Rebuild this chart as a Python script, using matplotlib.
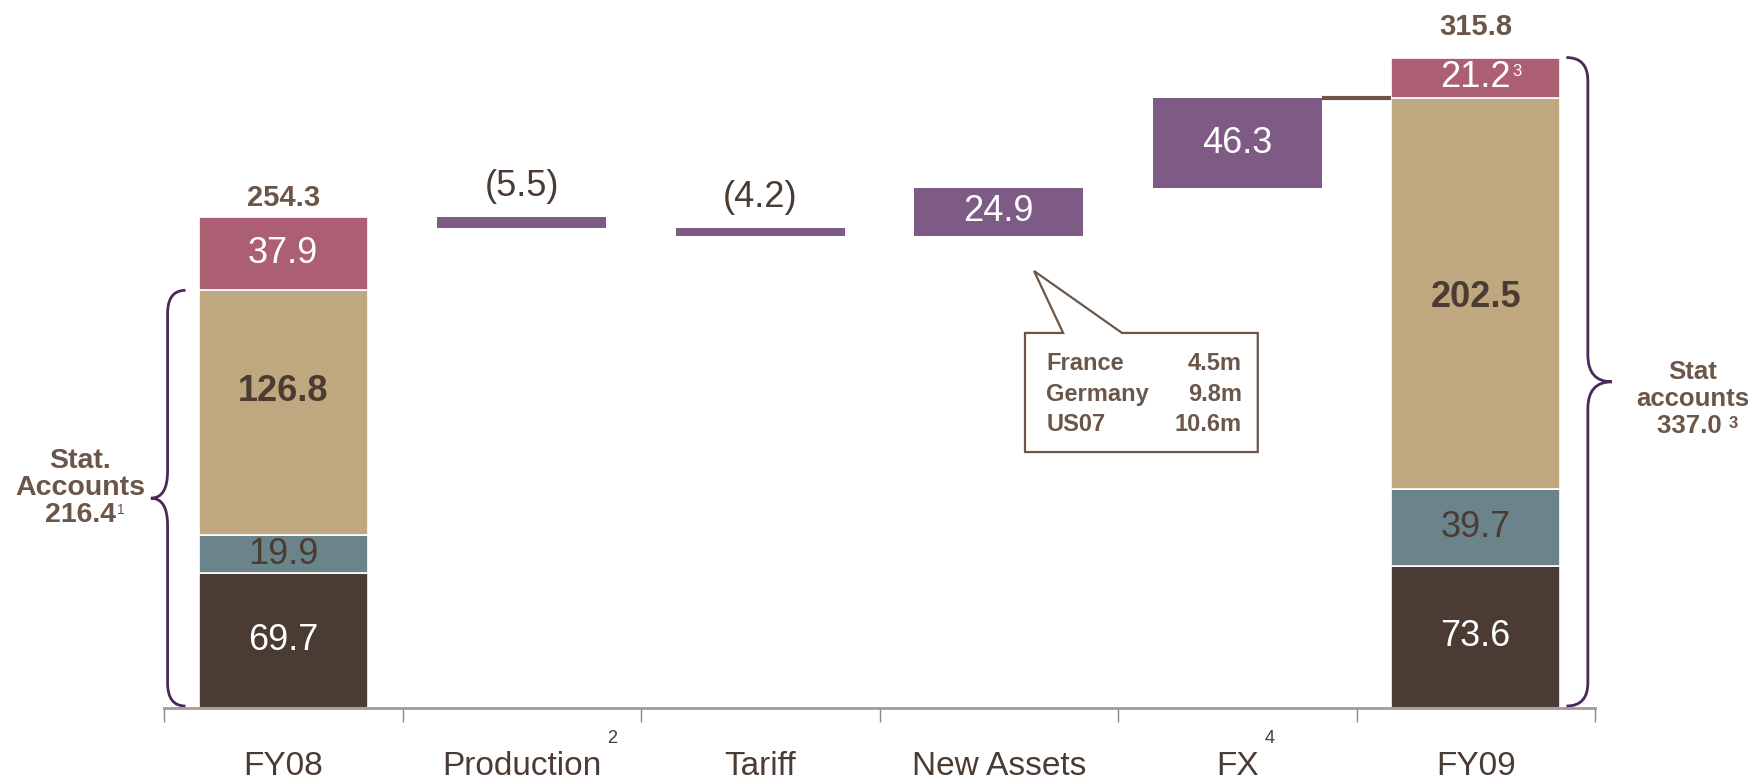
import matplotlib
matplotlib.use("Agg")
import matplotlib.pyplot as plt
from matplotlib.path import Path
from matplotlib.patches import PathPatch, Polygon
from matplotlib.transforms import IdentityTransform

plt.rcParams['font.family'] = ['Liberation Sans', 'DejaVu Sans']

categories = ["FY08", "Production", "Tariff", "New Assets", "FX", "FY09"]
cat_sups = ["", "2", "", "", "4", ""]

# stacked bars, bottom to top
fy08_parts = [69.7, 19.9, 126.8, 37.9]
fy09_parts = [73.6, 39.7, 202.5, 21.2]
fy08_labels = ["69.7", "19.9", "126.8", "37.9"]
fy09_labels = ["73.6", "39.7", "202.5", "21.2"]

# waterfall steps between FY08 and FY09
steps = [-5.5, -4.2, 24.9, 46.3]
step_labels = ["(5.5)", "(4.2)", "24.9", "46.3"]

fy08_total = 254.3
fy09_top_label = "315.8"
stat08 = 216.4
stat09 = 337.0

new_assets_split = [("France", "4.5m"), ("Germany", "9.8m"), ("US07", "10.6m")]

part_colors = ["#4A3B33", "#6B838A", "#BFA87F", "#AC5E72"]
part_text = ["white", "#4A3B33", "#4A3B33", "white"]
part_weight = ["normal", "normal", "bold", "normal"]
purple = "#7D5B85"
brown = "#6B5649"
dark = "#4A3B33"
brace_col = "#4B2857"
W = 0.71

fig = plt.figure(figsize=(17.48, 7.79), dpi=100)
ax = fig.add_axes([164 / 1748, 71 / 779, (1595 - 164) / 1748, 708 / 779])
ax.set_xlim(-0.5, 5.5)
ax.set_ylim(0, 366.8)

# stacked totals (label nudges for the big middle segment, as in the slide)
nudge = {0: 11, 5: -2}
for xi, parts, labels in [(0, fy08_parts, fy08_labels), (5, fy09_parts, fy09_labels)]:
    bottom = 0
    for k, v in enumerate(parts):
        ax.bar(xi, v, W, bottom=bottom, color=part_colors[k], edgecolor="white", linewidth=1.2)
        ly = bottom + v / 2 + (nudge[xi] if k == 2 else 0)
        ax.text(xi, ly, labels[k], ha="center", va="center", fontsize=26,
                color=part_text[k], weight=part_weight[k])
        bottom += v

# waterfall
running = fy08_total
for i, (s, lab) in enumerate(zip(steps, step_labels), start=1):
    b = running if s > 0 else running + s
    ax.bar(i, abs(s), W, bottom=b, color=purple, linewidth=0)
    if s > 0:
        ax.text(i, b + s / 2, lab, ha="center", va="center", fontsize=26, color="white")
    else:
        ax.annotate(lab, (i, running), xytext=(0, 22), textcoords="offset points",
                    ha="center", va="center", fontsize=26, color=dark)
    running += s

# connector FX -> FY09
ax.plot([4 + W / 2, 5 - W / 2], [running, running], color=brown, lw=3, solid_capstyle="butt")

# top totals
ax.annotate(f"{fy08_total:.1f}", (0, fy08_total), xytext=(0, 14), textcoords="offset points",
            ha="center", va="center", fontsize=21, weight="bold", color=brown)
ax.annotate(fy09_top_label, (5, sum(fy09_parts)), xytext=(0, 22), textcoords="offset points",
            ha="center", va="center", fontsize=21, weight="bold", color=brown)


def brace(x_end, x_spine, x_tip, y0, y1, r1=12, r2=14):
    ym = (y0 + y1) / 2
    verts = [(x_end, y0), (x_spine, y0), (x_spine, y0 + r1),
             (x_spine, ym - r2), (x_spine, ym), (x_tip, ym),
             (x_spine, ym), (x_spine, ym + r2),
             (x_spine, y1 - r1), (x_spine, y1), (x_end, y1)]
    codes = [Path.MOVETO, Path.CURVE3, Path.CURVE3,
             Path.LINETO, Path.CURVE3, Path.CURVE3,
             Path.CURVE3, Path.CURVE3,
             Path.LINETO, Path.CURVE3, Path.CURVE3]
    ax.add_patch(PathPatch(Path(verts, codes), fill=False, edgecolor=brace_col, lw=2, clip_on=False))


brace(-0.41, -0.485, -0.555, 1, stat08)
brace(5.38, 5.47, 5.57, 1, stat09)

# side texts
left_lines = ["Stat.", "Accounts", f"{stat08:.1f}"]
right_lines = ["Stat", "accounts", f"{stat09:.1f} "]
left_txt = []
for txt, y in zip(left_lines, [128, 114, 100]):
    left_txt.append(ax.text(-0.85, y, txt, ha="center", va="center", fontsize=20.5,
                            weight="bold", color=brown, clip_on=False))
right_txt = []
for txt, y in zip(right_lines, [174, 160, 146]):
    right_txt.append(ax.text(5.91, y, txt, ha="center", va="center", fontsize=18.5,
                             weight="bold", color=brown, clip_on=False))

# callout for New Assets
callout = [(3.11, 194.3), (3.27, 194.3), (3.148, 226.4), (3.517, 194.3),
           (4.086, 194.3), (4.086, 132.6), (3.11, 132.6)]
ax.add_patch(Polygon(callout, closed=True, facecolor="white", edgecolor=brown, lw=1.6, clip_on=False))
for (name, val), y in zip(new_assets_split, [178.5, 162.6, 146.8]):
    ax.text(3.20, y, name, ha="left", va="center", fontsize=17, weight="bold", color=brown)
    ax.text(4.02, y, val, ha="right", va="center", fontsize=17, weight="bold", color=brown)

# axis styling
for s in ["left", "top", "right"]:
    ax.spines[s].set_visible(False)
ax.spines["bottom"].set_color("#A39C96")
ax.spines["bottom"].set_linewidth(2)
ax.set_yticks([])
ax.set_xticks(range(len(categories)))
ax.set_xticklabels(categories, fontsize=24, color=dark)
ax.set_xticks([i - 0.5 for i in range(len(categories) + 1)], minor=True)
ax.tick_params(axis="x", which="major", length=0, pad=31)
ax.tick_params(axis="x", which="minor", length=10, width=1, color="#8F8781")

fig.canvas.draw()
renderer = fig.canvas.get_renderer()


def add_sup(t, s, size, dx, dy, color, weight="normal"):
    bb = t.get_window_extent(renderer)
    fig.text(bb.x1 + dx, bb.y1 + dy, s, transform=IdentityTransform(), fontsize=size,
             ha="left", va="top", color=color, weight=weight)


for t, s in zip(ax.get_xticklabels(), cat_sups):
    if s:
        add_sup(t, s, 13, 6, 21, dark)
add_sup(left_txt[2], "1", 10, 1, -1, brown)
add_sup(right_txt[2], "3", 12, 0, -2, brown, "bold")
for t in ax.texts:
    if t.get_text() == fy09_labels[3]:
        add_sup(t, "3", 12, 1, -4, "white")

fig.savefig("out.png", dpi=100)
